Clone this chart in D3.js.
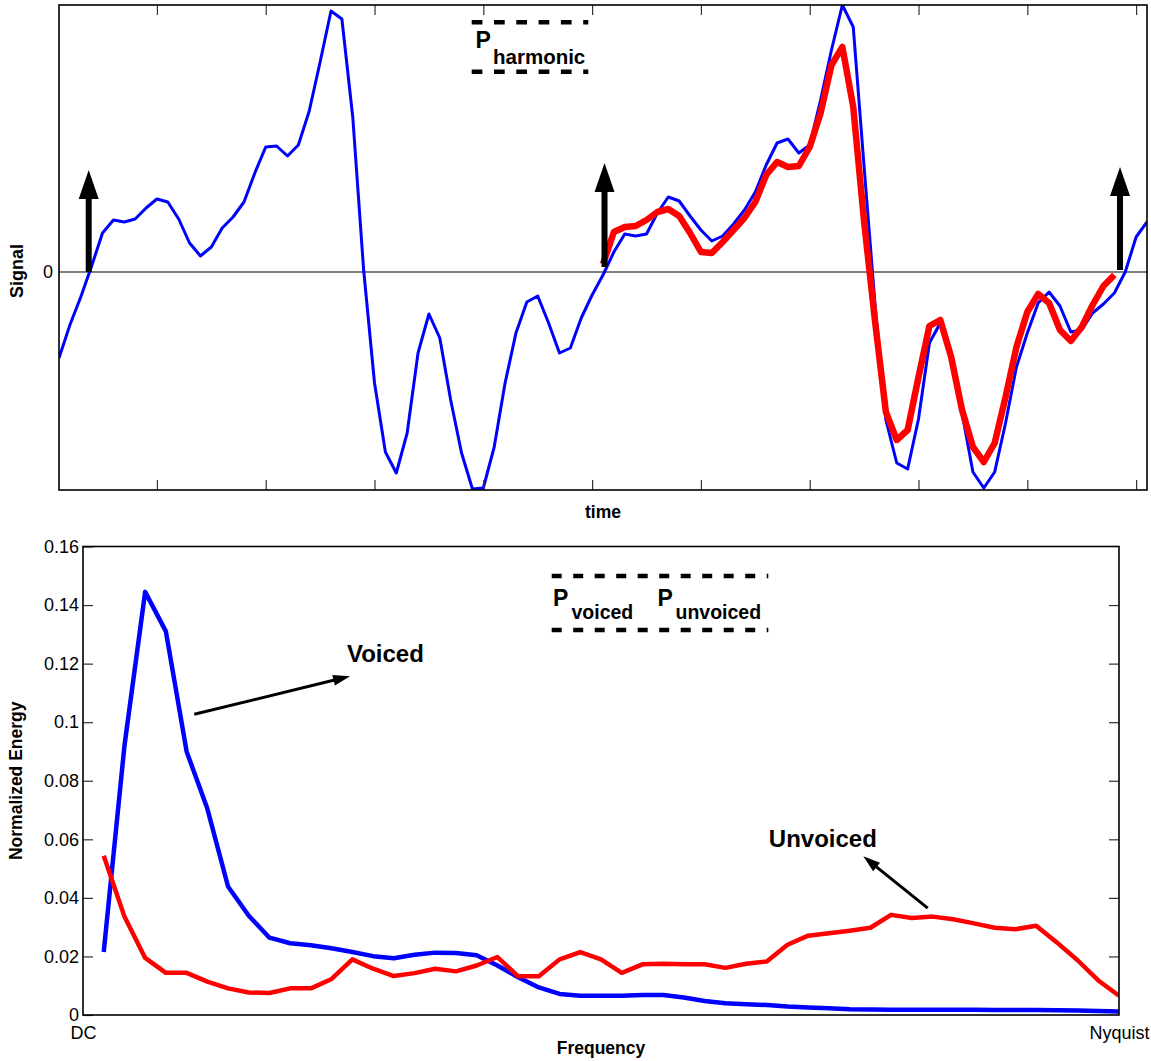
<!DOCTYPE html>
<html><head><meta charset="utf-8">
<script src="https://cdn.jsdelivr.net/npm/d3@7"></script>
<style>
body{margin:0;background:#fff;}
svg{display:block;font-family:"Liberation Sans",Arial,Helvetica,sans-serif;}
</style></head><body>
<svg id="chart" width="1151" height="1061"></svg>
<script>
// ---------- DATA: top panel (time signal, sample index 1..101) ----------
const signalBlue = [
 -0.86,-0.53,-0.25,0.06,0.39,0.52,0.50,0.53,0.64,0.73,
  0.70,0.53,0.29,0.16,0.25,0.44,0.55,0.70,0.99,1.25,
  1.26,1.16,1.27,1.61,2.10,2.61,2.53,1.55,0.02,-1.11,
 -1.80,-2.01,-1.61,-0.81,-0.42,-0.66,-1.28,-1.81,-2.17,-2.16,
 -1.75,-1.11,-0.61,-0.30,-0.24,-0.51,-0.81,-0.76,-0.46,-0.23,
 -0.03,0.20,0.38,0.36,0.38,0.59,0.75,0.71,0.56,0.42,
  0.31,0.36,0.48,0.62,0.80,1.07,1.29,1.33,1.19,1.27,
  1.72,2.22,2.67,2.45,1.05,-0.32,-1.48,-1.91,-1.97,-1.47,
 -0.71,-0.51,-0.81,-1.41,-2.00,-2.16,-2.00,-1.51,-0.95,-0.61,
 -0.31,-0.20,-0.34,-0.60,-0.58,-0.41,-0.32,-0.21,0.00,0.35,
  0.50
];
const harmonicStart = 51;           // first sample of the red (harmonic) segment
const signalRed = [
  0.08,0.40,0.45,0.46,0.52,0.60,0.63,0.56,0.39,0.20,
  0.19,0.30,0.42,0.54,0.70,0.97,1.10,1.05,1.06,1.25,
  1.59,2.07,2.25,1.65,0.50,-0.49,-1.40,-1.68,-1.58,-1.05,
 -0.54,-0.48,-0.85,-1.38,-1.75,-1.90,-1.71,-1.25,-0.75,-0.40,
 -0.22,-0.31,-0.58,-0.69,-0.55,-0.33,-0.14,-0.03
];
const pitchMarkX    = [3.73, 51.14, 98.52];
const pitchMarkBase = [0.00, 0.05, 0.02];
const pitchMarkTip  = [1.02, 1.09, 1.05];
const timeTicks = [10,20,30,40,50,60,70,80,90,100];
const signalTicks = [0];

// ---------- DATA: bottom panel (spectrum, bins 1..50) ----------
const voicedEnergy = [
 0.0215,0.0919,0.1445,0.1310,0.0900,0.0705,0.0439,0.0339,0.0264,0.0245,
 0.0238,0.0228,0.0215,0.0201,0.0194,0.0206,0.0213,0.0212,0.0204,0.0169,
 0.0129,0.0094,0.0072,0.0066,0.0066,0.0066,0.0068,0.0068,0.0060,0.0048,
 0.0040,0.0037,0.0034,0.0029,0.0026,0.0023,0.0020,0.0019,0.0018,0.0018,
 0.0018,0.0018,0.0018,0.0017,0.0017,0.0017,0.0016,0.0015,0.0014,0.0012
];
const unvoicedEnergy = [
 0.0544,0.0336,0.0195,0.0144,0.0144,0.0114,0.0091,0.0077,0.0075,0.0091,
 0.0091,0.0123,0.0190,0.0158,0.0133,0.0143,0.0158,0.0149,0.0169,0.0198,
 0.0132,0.0132,0.0190,0.0215,0.0190,0.0144,0.0173,0.0175,0.0173,0.0173,
 0.0161,0.0175,0.0183,0.0240,0.0271,0.0279,0.0288,0.0298,0.0342,0.0331,
 0.0336,0.0327,0.0313,0.0298,0.0293,0.0305,0.0248,0.0187,0.0118,0.0066
];
const energyTicks = [0,0.02,0.04,0.06,0.08,0.1,0.12,0.14,0.16];
const freqTickValues = [0,50];
const freqTickLabels = ["DC","Nyquist"];
// annotations [x,y] in data units
const voicedLabel = {text:"Voiced", x:12.74, y:0.1204, from:[5.37,0.1027], to:[12.89,0.1157]};
const unvoicedLabel = {text:"Unvoiced", x:33.1, y:0.0573, from:[40.77,0.0365], to:[37.66,0.0542]};

// ---------- DRAW ----------
const svg = d3.select("#chart");
svg.append("rect").attr("width",1151).attr("height",1061).attr("fill","#fff");
const tickFont = "18px";
const labelFont = "17.5px";

// ===== TOP PANEL =====
const T = {l:59, r:1147, t:5, b:490};
const xT = d3.scaleLinear().domain([1,101]).range([T.l,T.r]);
const yT = d3.scaleLinear().domain([-2.18,2.67]).range([T.b,T.t]);

const defs = svg.append("defs");
defs.append("clipPath").attr("id","clipT").append("rect")
  .attr("x",T.l).attr("y",T.t).attr("width",T.r-T.l).attr("height",T.b-T.t);
defs.append("clipPath").attr("id","clipB");

// zero line
svg.append("line").attr("x1",T.l).attr("x2",T.r).attr("y1",yT(0)).attr("y2",yT(0))
  .attr("stroke","#000").attr("stroke-width",1);

const lineT = d3.line().x(d=>xT(d[0])).y(d=>yT(d[1]));
const gT = svg.append("g").attr("clip-path","url(#clipT)");
gT.append("path").datum(signalBlue.map((v,i)=>[i+1,v]))
  .attr("d",lineT).attr("fill","none").attr("stroke","#0000ff")
  .attr("stroke-width",3).attr("stroke-linejoin","round");
gT.append("path").datum(signalRed.map((v,i)=>[i+harmonicStart,v]))
  .attr("d",lineT).attr("fill","none").attr("stroke","#ff0000")
  .attr("stroke-width",6.5).attr("stroke-linejoin","round");

// pitch mark arrows
pitchMarkX.forEach((px,i)=>{
  const x = xT(px), yb = yT(pitchMarkBase[i]), yt = yT(pitchMarkTip[i]);
  const headL = 29, headW = 10;
  svg.append("line").attr("x1",x).attr("x2",x).attr("y1",yb).attr("y2",yt+headL-1)
    .attr("stroke","#000").attr("stroke-width",6);
  svg.append("path").attr("d",`M${x},${yt} L${x-headW},${yt+headL} L${x+headW},${yt+headL} Z`)
    .attr("fill","#000");
});

// axes top
function styleAxis(g){
  g.select(".domain").remove();
  g.selectAll(".tick line").attr("stroke","#333").attr("stroke-width",1.2);
  g.selectAll("text").attr("font-size",tickFont).attr("fill","#000")
    .attr("font-family","'Liberation Sans',Arial,Helvetica,sans-serif");
}
svg.append("g").attr("transform",`translate(0,${T.b})`)
  .call(d3.axisBottom(xT).tickValues(timeTicks).tickSize(-10).tickFormat(""))
  .call(styleAxis);
svg.append("g").attr("transform",`translate(0,${T.t})`)
  .call(d3.axisTop(xT).tickValues(timeTicks).tickSize(-10).tickFormat(""))
  .call(styleAxis);
svg.append("g").attr("transform",`translate(${T.l},0)`)
  .call(d3.axisLeft(yT).tickValues(signalTicks).tickSize(0).tickPadding(6).tickFormat(d3.format("d")))
  .call(styleAxis);
svg.append("rect").attr("x",T.l).attr("y",T.t).attr("width",T.r-T.l).attr("height",T.b-T.t)
  .attr("fill","none").attr("stroke","#000").attr("stroke-width",1.6);

svg.append("text").attr("x",(T.l+T.r)/2).attr("y",517.5).attr("text-anchor","middle")
  .attr("font-size",labelFont).attr("font-weight","bold").text("time");
svg.append("text").attr("transform","translate(23,271) rotate(-90)").attr("text-anchor","middle")
  .attr("font-size","18px").attr("font-weight","bold").text("Signal");

// legend-like box top
function dashed(x1,x2,y,dash){
  svg.append("line").attr("x1",x1).attr("x2",x2).attr("y1",y).attr("y2",y)
    .attr("stroke","#000").attr("stroke-width",4.5).attr("stroke-dasharray",dash);
}
dashed(471.7,588.3,22.3,"10.7,11.6");
dashed(471.7,588.3,71.7,"10.7,11.6");
svg.append("text").attr("x",475.5).attr("y",48).attr("font-size","23px").attr("font-weight","bold").text("P");
svg.append("text").attr("x",493).attr("y",63.5).attr("font-size","20.5px").attr("font-weight","bold").text("harmonic");

// ===== BOTTOM PANEL =====
const B = {l:83, r:1119, t:546.5, b:1015};
const xB = d3.scaleLinear().domain([0,50]).range([B.l,B.r]);
const yB = d3.scaleLinear().domain([0,0.16]).range([B.b,B.t]);
d3.select("#clipB").append("rect").attr("x",B.l).attr("y",B.t).attr("width",B.r-B.l).attr("height",B.b-B.t);

const lineB = d3.line().x(d=>xB(d[0])).y(d=>yB(d[1]));
const gB = svg.append("g").attr("clip-path","url(#clipB)");
gB.append("path").datum(voicedEnergy.map((v,i)=>[i+1,v]))
  .attr("d",lineB).attr("fill","none").attr("stroke","#0000ff").attr("stroke-width",4.5)
  .attr("stroke-linejoin","round");
gB.append("path").datum(unvoicedEnergy.map((v,i)=>[i+1,v]))
  .attr("d",lineB).attr("fill","none").attr("stroke","#ff0000").attr("stroke-width",4.5)
  .attr("stroke-linejoin","round");

svg.append("g").attr("transform",`translate(${B.l},0)`)
  .call(d3.axisLeft(yB).tickValues(energyTicks).tickSize(-10).tickPadding(4).tickFormat(d=>d3.format("")(+d.toFixed(2))))
  .call(styleAxis);
svg.append("g").attr("transform",`translate(${B.r},0)`)
  .call(d3.axisRight(yB).tickValues(energyTicks.slice(1,-1)).tickSize(-10).tickFormat(""))
  .call(styleAxis);
svg.append("g").attr("transform",`translate(0,${B.b})`)
  .call(d3.axisBottom(xB).tickValues(freqTickValues).tickSize(0).tickPadding(11)
        .tickFormat((d,i)=>freqTickLabels[i]))
  .call(styleAxis);
svg.append("rect").attr("x",B.l).attr("y",B.t).attr("width",B.r-B.l).attr("height",B.b-B.t)
  .attr("fill","none").attr("stroke","#000").attr("stroke-width",1.6);

svg.append("text").attr("x",(B.l+B.r)/2).attr("y",1054).attr("text-anchor","middle")
  .attr("font-size",labelFont).attr("font-weight","bold").text("Frequency");
svg.append("text").attr("transform",`translate(22,${(B.t+B.b)/2}) rotate(-90)`).attr("text-anchor","middle")
  .attr("font-size",labelFont).attr("font-weight","bold").text("Normalized Energy");

// legend-like box bottom
dashed(551.7,768.3,576,"10,11.5");
dashed(551.7,768.3,630,"10,11.5");
svg.append("text").attr("x",553).attr("y",606).attr("font-size","23px").attr("font-weight","bold").text("P");
svg.append("text").attr("x",571.5).attr("y",618.5).attr("font-size","19.5px").attr("font-weight","bold").text("voiced");
svg.append("text").attr("x",657.5).attr("y",606).attr("font-size","23px").attr("font-weight","bold").text("P");
svg.append("text").attr("x",675.5).attr("y",618.5).attr("font-size","19.5px").attr("font-weight","bold").text("unvoiced");

// annotations
function annot(a){
  svg.append("text").attr("x",xB(a.x)).attr("y",yB(a.y)).attr("font-size","24px")
    .attr("font-weight","bold").text(a.text);
  const x1=xB(a.from[0]), y1=yB(a.from[1]), x2=xB(a.to[0]), y2=yB(a.to[1]);
  const dx=x2-x1, dy=y2-y1, L=Math.hypot(dx,dy), ux=dx/L, uy=dy/L;
  const hl=17, hw=5.5;
  const bx=x2-ux*hl, by=y2-uy*hl;
  svg.append("line").attr("x1",x1).attr("y1",y1).attr("x2",bx+ux).attr("y2",by+uy)
    .attr("stroke","#000").attr("stroke-width",3);
  svg.append("path").attr("d",`M${x2},${y2} L${bx-uy*hw},${by+ux*hw} L${bx+uy*hw},${by-ux*hw} Z`)
    .attr("fill","#000");
}
annot(voicedLabel);
annot(unvoicedLabel);
</script>
</body></html>
